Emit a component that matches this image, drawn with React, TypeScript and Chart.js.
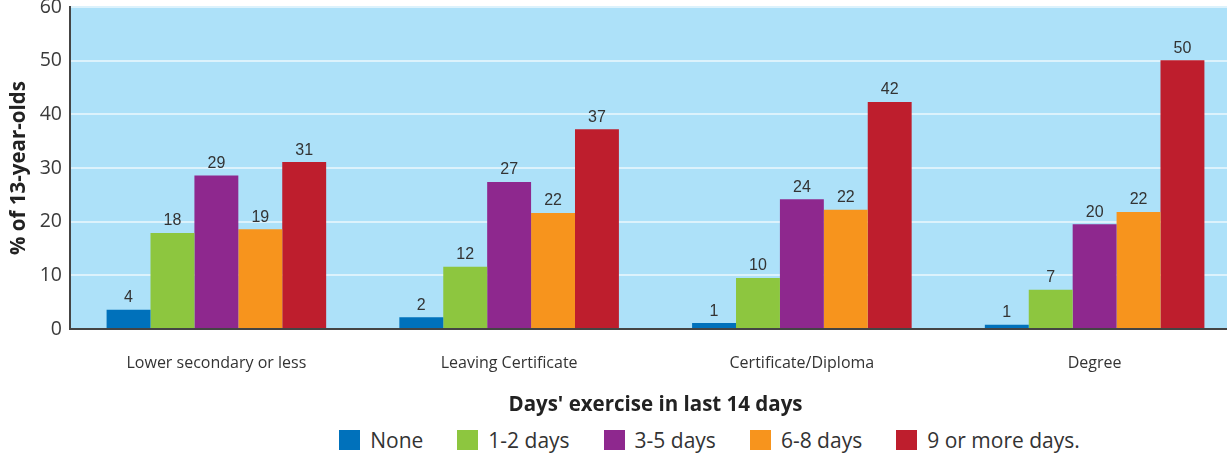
import React, { useEffect, useRef } from 'react';
import { Chart, registerables } from 'chart.js';

Chart.register(...registerables);

const categories = ['Lower secondary or less', 'Leaving Certificate', 'Certificate/Diploma', 'Degree'];
const seriesNames = ['None', '1-2 days', '3-5 days', '6-8 days', '9 or more days.'];
const noneValues = [3.6, 2.2, 1.1, 0.8];
const days12Values = [17.9, 11.6, 9.5, 7.3];
const days35Values = [28.6, 27.4, 24.2, 19.5];
const days68Values = [18.6, 21.6, 22.2, 21.8];
const days9Values = [31.1, 37.2, 42.3, 50.1];
const seriesColors = ['#0071bb', '#8dc63f', '#8e288e', '#f7941d', '#be1e2d'];
const yMin = 0;
const yMax = 60;
const yStep = 10;
const yTitle = '% of 13-year-olds';
const xTitle = "Days' exercise in last 14 days";

const allSeries = [noneValues, days12Values, days35Values, days68Values, days9Values];

const plotBg = {
  id: 'plotBg',
  beforeDraw(chart: any) {
    const { ctx, chartArea } = chart;
    ctx.save();
    ctx.fillStyle = '#ade1f9';
    ctx.fillRect(chartArea.left, chartArea.top, chartArea.right - chartArea.left, chartArea.bottom - chartArea.top);
    ctx.restore();
  },
};

const valueLabels = {
  id: 'valueLabels',
  afterDatasetsDraw(chart: any) {
    const { ctx } = chart;
    ctx.save();
    ctx.font = '16px "Liberation Sans", Arial, sans-serif';
    ctx.fillStyle = '#333333';
    ctx.textAlign = 'center';
    ctx.textBaseline = 'bottom';
    chart.data.datasets.forEach((ds: any, i: number) => {
      const meta = chart.getDatasetMeta(i);
      meta.data.forEach((el: any, j: number) => {
        ctx.fillText(String(Math.round(ds.data[j])), el.x, el.y - 4);
      });
    });
    ctx.restore();
  },
};

export default function App() {
  const canvasRef = useRef<HTMLCanvasElement | null>(null);

  useEffect(() => {
    if (!canvasRef.current) return;
    const chart = new Chart(canvasRef.current, {
      type: 'bar',
      data: {
        labels: categories,
        datasets: allSeries.map((vals, i) => ({
          label: seriesNames[i],
          data: vals,
          backgroundColor: seriesColors[i],
          borderWidth: 0,
          categoryPercentage: 0.75,
          barPercentage: 1,
        })),
      },
      options: {
        responsive: false,
        animation: false,
        layout: { padding: { top: 7, left: 0, right: 0, bottom: 0 } },
        plugins: {
          legend: { display: false },
          tooltip: { enabled: false },
        },
        scales: {
          x: {
            grid: { display: false, drawTicks: false },
            border: { display: true, color: '#444444', width: 2 },
            ticks: {
              padding: 25,
              color: '#333333',
              font: { family: '"Open Sans", sans-serif', size: 16 },
            },
            title: {
              display: true,
              text: xTitle,
              color: '#222222',
              font: { family: '"Open Sans", sans-serif', size: 20.5, weight: 'bold' },
              padding: { top: 0, bottom: 3 },
            },
            afterFit: (s: any) => {
              s.height = 91;
              s.paddingLeft = 0;
              s.paddingRight = 0;
            },
          },
          y: {
            min: yMin,
            max: yMax,
            ticks: {
              stepSize: yStep,
              padding: 8,
              color: '#3a3a3a',
              font: { family: '"Open Sans", sans-serif', size: 19.5 },
            },
            grid: { color: '#dcf2fc', lineWidth: 2, drawTicks: false },
            border: { display: true, color: '#444444', width: 2 },
            title: {
              display: true,
              text: yTitle,
              color: '#222222',
              font: { family: '"Open Sans", sans-serif', size: 20.5, weight: 'bold' },
              padding: { top: 7, bottom: 0 },
            },
            afterFit: (s: any) => {
              s.width = 70;
              s.paddingTop = 0;
              s.paddingBottom = 0;
            },
          },
        },
      },
      plugins: [plotBg, valueLabels],
    });
    return () => chart.destroy();
  }, []);

  return (
    <div
      style={{
        position: 'fixed',
        left: 0,
        top: 0,
        width: 1227,
        height: 456,
        overflow: 'hidden',
        background: '#ffffff',
      }}
    >
      <canvas ref={canvasRef} width={1241} height={420} style={{ display: 'block', width: 1241, height: 420 }} />
      <div
        style={{
          position: 'absolute',
          top: 430,
          left: 0,
          width: 1227,
          boxSizing: 'border-box',
          paddingLeft: 192,
          display: 'flex',
          justifyContent: 'center',
          alignItems: 'center',
          gap: 34,
          fontFamily: '"Open Sans", sans-serif',
          fontSize: 21,
          color: '#333333',
        }}
      >
        {seriesNames.map((name, i) => (
          <div key={name} style={{ display: 'flex', alignItems: 'center' }}>
            <span style={{ display: 'inline-block', width: 21, height: 20, background: seriesColors[i], marginRight: 10 }} />
            <span style={{ lineHeight: '20px' }}>{name}</span>
          </div>
        ))}
      </div>
    </div>
  );
}
